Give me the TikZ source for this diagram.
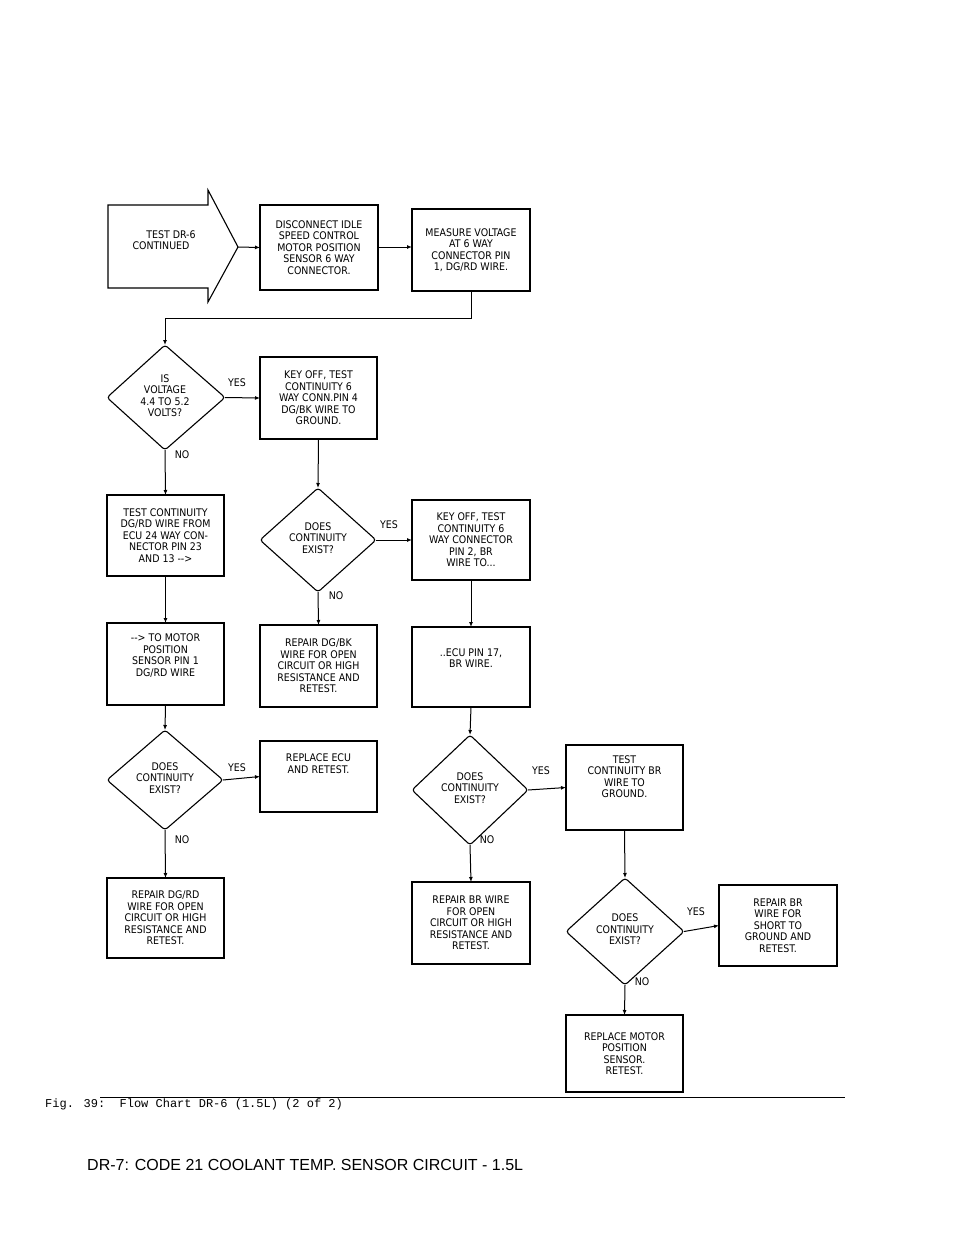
\documentclass[tikz,border=0pt]{standalone}
\usepackage{fontspec}
\setmainfont{DejaVu Sans Condensed}
\newfontfamily\monof{Liberation Mono}
\newfontfamily\sansf{Liberation Sans}
\usetikzlibrary{arrows.meta}
\begin{document}
\begin{tikzpicture}[x=1pt,y=-1pt,
  txt/.style={font=\fontsize{10.5}{11.5}\selectfont,align=center,inner sep=0pt},
  fbox/.style={draw,line width=1.1pt},
  dia/.style={draw,line width=1.1pt,rounded corners=3pt},
  conn/.style={line width=1pt,-{Latex[length=5pt,width=4pt]}},
  lbl/.style={font=\fontsize{10.5}{11.5}\selectfont,inner sep=0pt}]
\useasboundingbox (0,0) rectangle (960,1242);
% start arrow
\draw[line width=1.1pt] (108,205) -- (208,205) -- (208,190) -- (238,247) -- (208,302) -- (208,288) -- (108,288) -- cycle;
\node[txt] (st) at (165,240) {\hspace*{12pt}TEST DR-6\\CONTINUED\hspace*{8pt}};
\coordinate (stp) at (238,247);
% boxes
\newcommand\bx[6]{\draw[fbox] (#2,#3) rectangle (#4,#5); \node[txt] (#1) at ({(#2+#4)/2},{(#3+#5)/2}) {#6};
 \coordinate (#1n) at ({(#2+#4)/2},#3); \coordinate (#1s) at ({(#2+#4)/2},#5);
 \coordinate (#1w) at (#2,{(#3+#5)/2});}
\newcommand\dm[6]{\draw[dia] (#2,#4) -- (#3,{(#4+#5)/2}) -- (#2,#5) -- (#1,{(#4+#5)/2}) -- cycle;
 \node[txt] (#6) at (#2,{(#4+#5)/2-2}) {\csname dtx#6\endcsname};
 \coordinate (#6n) at (#2,#4); \coordinate (#6s) at (#2,#5); \coordinate (#6e) at (#3,{(#4+#5)/2});}
\bx{b1}{260}{205}{378}{290}{DISCONNECT IDLE\\SPEED CONTROL\\MOTOR POSITION\\SENSOR 6 WAY\\CONNECTOR.}
\bx{b2}{412}{209}{530}{291}{MEASURE VOLTAGE\\AT 6 WAY\\CONNECTOR PIN\\1, DG/RD WIRE.}
\bx{b3}{260}{357}{377}{439}{KEY OFF, TEST\\CONTINUITY 6\\WAY CONN.PIN 4\\DG/BK WIRE TO\\GROUND.}
\bx{b4}{107}{495}{224}{576}{TEST CONTINUITY\\DG/RD WIRE FROM\\ECU 24 WAY CON-\\NECTOR PIN 23\\AND 13 -{}->}
\bx{b5}{412}{500}{530}{580}{KEY OFF, TEST\\CONTINUITY 6\\WAY CONNECTOR\\PIN 2, BR\\WIRE TO...}
\bx{b6}{260}{625}{377}{707}{REPAIR DG/BK\\WIRE FOR OPEN\\CIRCUIT OR HIGH\\RESISTANCE AND\\RETEST.}
\bx{b7}{107}{623}{224}{705}{-{}-> TO MOTOR\\POSITION\\SENSOR PIN 1\\DG/RD WIRE\\[6pt]}
\bx{b8}{412}{627}{530}{707}{..ECU PIN 17,\\BR WIRE.\\[6pt]}
\bx{b9}{260}{741}{377}{812}{REPLACE ECU\\AND RETEST.\\[14pt]}
\bx{b10}{107}{878}{224}{958}{REPAIR DG/RD\\WIRE FOR OPEN\\CIRCUIT OR HIGH\\RESISTANCE AND\\RETEST.}
\bx{b11}{566}{745}{683}{830}{TEST\\CONTINUITY BR\\WIRE TO\\GROUND.\\[10pt]}
\bx{b12}{412}{882}{530}{964}{REPAIR BR WIRE\\FOR OPEN\\CIRCUIT OR HIGH\\RESISTANCE AND\\RETEST.}
\bx{b13}{719}{885}{837}{966}{REPAIR BR\\WIRE FOR\\SHORT TO\\GROUND AND\\RETEST.}
\bx{b14}{566}{1015}{683}{1092}{REPLACE MOTOR\\POSITION\\SENSOR.\\RETEST.}
% diamonds
\expandafter\def\csname dtxd1\endcsname{IS\\VOLTAGE\\4.4 TO 5.2\\VOLTS?}
\expandafter\def\csname dtxd2\endcsname{DOES\\CONTINUITY\\EXIST?}
\expandafter\def\csname dtxd3\endcsname{DOES\\CONTINUITY\\EXIST?}
\expandafter\def\csname dtxd4\endcsname{DOES\\CONTINUITY\\EXIST?}
\expandafter\def\csname dtxd5\endcsname{DOES\\CONTINUITY\\EXIST?}
\dm{107}{165}{225}{345}{450}{d1}
\dm{260}{318}{376}{488}{592}{d2}
\dm{107}{165}{223}{730}{830}{d3}
\dm{412}{470}{528}{735}{845}{d4}
\dm{566}{625}{684}{878}{985}{d5}
% connectors
\draw[conn] (stp) -- (b1w);
\draw[conn] (378,247) -- (412,247);
\draw[conn] (b2s) -- (471,318) -- (165,318) -- (d1n);
\draw[conn] (d1e) -- (b3w);
\draw[conn] (d1s) -- (b4n);
\draw[conn] (b3s) -- (d2n);
\draw[conn] (d2e) -- (b5w);
\draw[conn] (d2s) -- (b6n);
\draw[conn] (b4s) -- (b7n);
\draw[conn] (b5s) -- (b8n);
\draw[conn] (b7s) -- (d3n);
\draw[conn] (d3e) -- (b9w);
\draw[conn] (d3s) -- (b10n);
\draw[conn] (b8s) -- (d4n);
\draw[conn] (d4e) -- (b11w);
\draw[conn] (d4s) -- (b12n);
\draw[conn] (b11s) -- (d5n);
\draw[conn] (d5e) -- (b13w);
\draw[conn] (d5s) -- (b14n);
% labels
\node[lbl] (y1) at (237,383) {YES};
\node[lbl] (n1) at (182,455) {NO};
\node[lbl] (y2) at (389,525) {YES};
\node[lbl] (n2) at (336,596) {NO};
\node[lbl] (y3) at (237,768) {YES};
\node[lbl] (n3) at (182,840) {NO};
\node[lbl] (y4) at (541,771) {YES};
\node[lbl] (n4) at (487,840) {NO};
\node[lbl] (y5) at (696,912) {YES};
\node[lbl] (n5) at (642,982) {NO};
% caption
\draw[line width=0.5pt] (100,1097) -- (845,1097);
\node[anchor=west,inner sep=0pt,font=\monof\fontsize{12}{12}\selectfont] (cap) at (45,1104) {Fig. 39:\ \ Flow Chart DR-6 (1.5L) (2 of 2)};
\node[anchor=west,inner sep=0pt,font=\sansf\fontsize{16}{16}\selectfont] (hd) at (87,1165) {DR-7: CODE 21 COOLANT TEMP. SENSOR CIRCUIT - 1.5L};
\end{tikzpicture}
\end{document}
